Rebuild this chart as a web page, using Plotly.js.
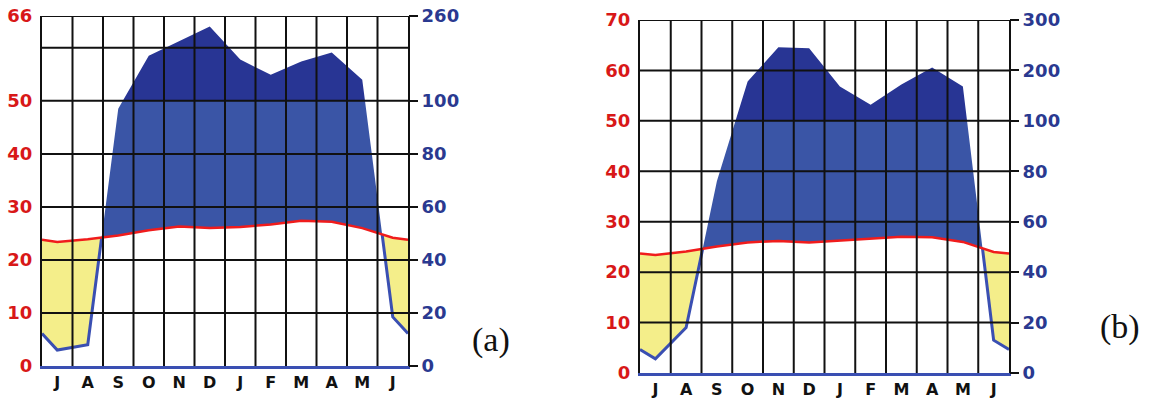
<!DOCTYPE html>
<html>
<head>
<meta charset="utf-8">
<script src="https://cdn.plot.ly/plotly-3.0.1.min.js"></script>
<style>html,body{margin:0;padding:0;background:#fff;}#chart{width:1153px;height:400px;}</style>
</head>
<body>
<div id="chart"></div>
<script>
// ---- data ----
const months = ['J','A','S','O','N','D','J','F','M','A','M','J'];
// panel (a)
const tempA = [23.4, 23.9, 24.6, 25.6, 26.3, 26.0, 26.2, 26.7, 27.4, 27.2, 26.0, 24.2];
const precA = [6, 8, 97, 185, 213, 240, 178, 149, 174, 191, 140, 18.5];
const leftTicksA = [0, 10, 20, 30, 40, 50, 66];
const rightTickTextA = ['0', '20', '40', '60', '80', '100', '260'];
const gridA = [10, 20, 30, 40, 50, 60, 66];
const topA = 66;
// panel (b)
const tempB = [23.4, 24.1, 25.1, 25.9, 26.2, 25.9, 26.3, 26.6, 27.0, 26.9, 26.0, 24.0];
const precB = [5.6, 18, 76, 178, 246, 244, 168, 132, 172, 206, 168, 13];
const leftTicksB = [0, 10, 20, 30, 40, 50, 60, 70];
const rightTickTextB = ['0', '20', '40', '60', '80', '100', '200', '300'];
const gridB = [10, 20, 30, 40, 50, 60, 70];
const topB = 70;

// ---- helpers ----
const W = 1153, H = 400;
const C = {
  dark: '#283594', mid: '#3a55a6', yellow: '#f4ee8a', red: '#f01c1c',
  pline: '#3a4fb2', red_lbl: '#d81818', blue_lbl: '#2a3990'
};
function scaleP(p) { return p <= 100 ? p / 2 : 50 + (p - 100) / 10; }

function build(temp, prec) {
  const n = temp.length;
  const sp = prec.map(scaleP);
  const te = (temp[n - 1] + temp[0]) / 2, pe = (sp[n - 1] + sp[0]) / 2;
  const X = [0], T = [te], P = [pe];
  for (let i = 0; i < n; i++) { X.push(i + 0.5); T.push(temp[i]); P.push(sp[i]); }
  X.push(n); T.push(te); P.push(pe);
  const x = [], t = [], p = [];
  for (let k = 0; k < X.length; k++) {
    x.push(X[k]); t.push(T[k]); p.push(P[k]);
    if (k < X.length - 1) {
      const cuts = [];
      const d0 = P[k] - T[k], d1 = P[k + 1] - T[k + 1];
      if (d0 * d1 < 0) cuts.push(d0 / (d0 - d1));
      const e0 = P[k] - 50, e1 = P[k + 1] - 50;
      if (e0 * e1 < 0) cuts.push(e0 / (e0 - e1));
      cuts.sort((a, b) => a - b);
      for (const f of cuts) {
        x.push(X[k] + f * (X[k + 1] - X[k]));
        t.push(T[k] + f * (T[k + 1] - T[k]));
        p.push(P[k] + f * (P[k + 1] - P[k]));
      }
    }
  }
  return { x, t, p, X, T };
}

function traces(temp, prec, xa, ya, ya2) {
  const d = build(temp, prec);
  const low = d.x.map((_, i) => Math.min(d.p[i], d.t[i]));
  const midUp = d.x.map((_, i) => Math.max(d.t[i], Math.min(d.p[i], 50)));
  const fifty = d.x.map(() => 50);
  const darkUp = d.x.map((_, i) => Math.max(d.p[i], 50));
  const pl = d.x.map((_, i) => d.p[i] <= d.t[i] + 1e-9 ? d.p[i] : null);
  const base = { xaxis: xa, yaxis: ya, mode: 'lines', hoverinfo: 'skip', showlegend: false };
  return [
    Object.assign({}, base, { x: d.x, y: low, line: { width: 0 } }),
    Object.assign({}, base, { x: d.x, y: d.t, line: { width: 0 }, fill: 'tonexty', fillcolor: C.yellow }),
    Object.assign({}, base, { x: d.x, y: midUp, line: { width: 0 }, fill: 'tonexty', fillcolor: C.mid }),
    Object.assign({}, base, { x: d.x, y: fifty, line: { width: 0 } }),
    Object.assign({}, base, { x: d.x, y: darkUp, line: { width: 0 }, fill: 'tonexty', fillcolor: C.dark }),
    Object.assign({}, base, { x: d.x, y: pl, line: { width: 3, color: C.pline }, connectgaps: false }),
    Object.assign({}, base, { x: d.X, y: d.T, line: { width: 2.5, color: C.red } }),
    Object.assign({}, base, { yaxis: ya2, x: [], y: [] })
  ];
}

const pa = { x0: 42, x1: 408, y0: 16, y1: 366 };
const pb = { x0: 640, x1: 1009, y0: 20, y1: 373 };
const dom = r => ({ x: [r.x0 / W, r.x1 / W], y: [1 - r.y1 / H, 1 - r.y0 / H] });
const da = dom(pa), db = dom(pb);

const fontNum = (color, size) => ({ family: 'DejaVu Sans', size: size || 18, color: color, weight: 'bold' });

function xAxis(domain, anchor) {
  return {
    domain: domain, anchor: anchor, range: [0, 12], fixedrange: true,
    tickmode: 'array', tickvals: months.map((_, i) => i + 0.5), ticktext: months,
    tickfont: fontNum('#111', 16), ticks: '', showgrid: false, zeroline: false,
    showline: true, linecolor: C.pline, linewidth: 3, layer: 'above traces',
    ticklabelstandoff: 0
  };
}
function yLeft(domain, anchor, top, vals) {
  return {
    domain: domain, anchor: anchor, range: [0, top], fixedrange: true,
    tickmode: 'array', tickvals: vals, ticktext: vals.map(String),
    tickfont: fontNum(C.red_lbl), ticks: '', showgrid: false, zeroline: false,
    showline: true, mirror: true, linecolor: '#111', linewidth: 2, layer: 'above traces',
    ticklabelstandoff: 4
  };
}
function yRight(domain, anchor, over, top, vals, txt) {
  return {
    domain: domain, anchor: anchor, overlaying: over, side: 'right', range: [0, top], fixedrange: true,
    tickmode: 'array', tickvals: vals, ticktext: txt,
    tickfont: fontNum(C.blue_lbl), ticks: 'outside', ticklen: 9, tickwidth: 2, tickcolor: '#111',
    showgrid: false, zeroline: false, showline: false, layer: 'above traces'
  };
}

const shapes = [];
function grid(xr, yr, yvals) {
  for (let i = 1; i < months.length; i++) {
    shapes.push({ type: 'line', xref: xr, yref: yr + ' domain', x0: i, x1: i, y0: 0, y1: 1,
      line: { color: '#111', width: 2 }, layer: 'above' });
  }
  for (const v of yvals) {
    shapes.push({ type: 'line', xref: xr + ' domain', yref: yr, x0: 0, x1: 1, y0: v, y1: v,
      line: { color: '#111', width: 2 }, layer: 'above' });
  }
}
grid('x', 'y', gridA);
grid('x2', 'y3', gridB);

const data = [].concat(
  traces(tempA, precA, 'x', 'y', 'y2'),
  traces(tempB, precB, 'x2', 'y3', 'y4')
);

const layout = {
  width: W, height: H, margin: { l: 0, r: 0, t: 0, b: 0 },
  paper_bgcolor: '#fff', plot_bgcolor: '#fff', showlegend: false,
  xaxis: xAxis(da.x, 'y'),
  yaxis: yLeft(da.y, 'x', topA, leftTicksA),
  yaxis2: yRight(da.y, 'x', 'y', topA, leftTicksA, rightTickTextA),
  xaxis2: xAxis(db.x, 'y3'),
  yaxis3: yLeft(db.y, 'x2', topB, leftTicksB),
  yaxis4: yRight(db.y, 'x2', 'y3', topB, leftTicksB, rightTickTextB),
  shapes: shapes,
  annotations: [
    { xref: 'paper', yref: 'paper', x: 491 / W, y: 1 - 340 / H, xanchor: 'center', yanchor: 'middle',
      text: '(a)', showarrow: false, font: { family: 'Liberation Serif', size: 34, color: '#111' } },
    { xref: 'paper', yref: 'paper', x: 1120 / W, y: 1 - 327 / H, xanchor: 'center', yanchor: 'middle',
      text: '(b)', showarrow: false, font: { family: 'Liberation Serif', size: 34, color: '#111' } }
  ]
};

Plotly.newPlot('chart', data, layout, { displayModeBar: false, staticPlot: true });
</script>
</body>
</html>
